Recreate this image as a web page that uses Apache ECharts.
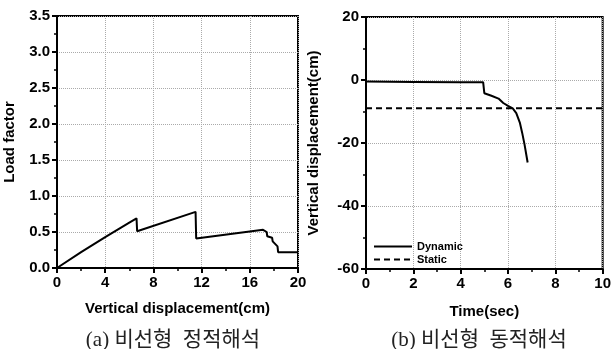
<!DOCTYPE html>
<html>
<head>
<meta charset="utf-8">
<script src="https://cdn.jsdelivr.net/npm/echarts@6/dist/echarts.min.js"></script>
<style>
  html, body { margin: 0; padding: 0; background: #fff; }
  #chart { width: 614px; height: 349px; }
</style>
</head>
<body>
<div id="chart"></div>
<script>
// (a) 정적해석: 하중계수 - 수직변위
const staticDisp = [0, 2, 4, 6, 6.6, 6.65, 11.5, 11.55, 17.1, 17.4, 17.45, 17.85, 17.9, 18.3, 18.35, 20]
const loadFactor = [0, 0.22, 0.43, 0.63, 0.69, 0.51, 0.78, 0.41, 0.53, 0.5, 0.44, 0.42, 0.37, 0.3, 0.22, 0.22]

// (b) 동적해석: 시간 - 수직변위
const dynTime = [0, 2, 4, 4.95, 5.0, 5.3, 5.6, 5.8, 6.0, 6.2, 6.35, 6.5, 6.6, 6.7, 6.83]
const dynDisp = [-0.5, -0.6, -0.7, -0.7, -4.2, -5.0, -5.9, -7.3, -8.2, -9.0, -10.5, -13.5, -16.8, -20.5, -26.2]
const staticTime = [0, 10]
const staticLevel = [-9, -9]

const pairs = (xs, ys) => xs.map((x, i) => [x, ys[i]])

const boldLabel = { color: '#000', fontWeight: 'bold', fontSize: 15, fontFamily: 'Liberation Sans' }
const nameStyle = { color: '#000', fontWeight: 'bold', fontSize: 15, fontFamily: 'Liberation Sans' }
const gridLine = { show: true, lineStyle: { color: '#aaa', type: 'dotted', width: 1 } }
const captionStyle = { fontSize: 21, fontWeight: 'normal', color: '#222', fontFamily: 'Liberation Serif, Noto Sans CJK KR' }

function axis (min, max, interval, extra) {
  return Object.assign({
    type: 'value',
    min: min,
    max: max,
    interval: interval,
    axisLine: { show: true, onZero: false, lineStyle: { color: '#000', width: 2 } },
    axisTick: { show: true, inside: false, length: 5, lineStyle: { color: '#000', width: 2 } },
    minorTick: { show: true, splitNumber: 2, length: 3, lineStyle: { color: '#000', width: 1.5 } },
    splitLine: gridLine,
    axisLabel: Object.assign({ margin: 7 }, boldLabel),
    nameTextStyle: nameStyle,
    nameLocation: 'middle'
  }, extra)
}

const chart = echarts.init(document.getElementById('chart'))
chart.setOption({
  animation: false,
  backgroundColor: '#fff',
  title: [
    { text: '(a) 비선형  정적해석', left: 168, top: 325, textAlign: 'center', textStyle: captionStyle },
    { text: '(b) 비선형  동적해석', left: 474, top: 325, textAlign: 'center', textStyle: captionStyle }
  ],
  grid: [
    { left: 57, top: 16, width: 241, height: 252, show: true, borderColor: '#000', borderWidth: 2 },
    { left: 366, top: 17, width: 239, height: 252, show: true, borderColor: '#000', borderWidth: 2 }
  ],
  legend: {
    left: 368, top: 236, orient: 'vertical', itemGap: 2, itemWidth: 38, itemHeight: 10,
    itemStyle: { opacity: 0 },
    textStyle: { color: '#000', fontWeight: 'bold', fontSize: 11, fontFamily: 'Liberation Sans' },
    data: ['Dynamic', 'Static']
  },
  xAxis: [
    axis(0, 20, 4, { gridIndex: 0, name: 'Vertical displacement(cm)', nameGap: 33 }),
    axis(0, 10, 2, { gridIndex: 1, name: 'Time(sec)', nameGap: 35 })
  ],
  yAxis: [
    axis(0, 3.5, 0.5, { gridIndex: 0, name: 'Load factor', nameGap: 40,
      axisLabel: Object.assign({ margin: 7, formatter: v => v.toFixed(1) }, boldLabel) }),
    axis(-60, 20, 20, { gridIndex: 1, name: 'Vertical displacement(cm)', nameGap: 45 })
  ],
  series: [
    {
      name: 'Load', type: 'line', xAxisIndex: 0, yAxisIndex: 0, symbol: 'none',
      lineStyle: { color: '#000', width: 2 },
      data: pairs(staticDisp, loadFactor)
    },
    {
      name: 'Dynamic', type: 'line', xAxisIndex: 1, yAxisIndex: 1, symbol: 'none',
      lineStyle: { color: '#000', width: 2 }, itemStyle: { color: '#000' },
      data: pairs(dynTime, dynDisp)
    },
    {
      name: 'Static', type: 'line', xAxisIndex: 1, yAxisIndex: 1, symbol: 'none',
      lineStyle: { color: '#000', width: 2, type: [6, 4] }, itemStyle: { color: '#000' },
      data: pairs(staticTime, staticLevel)
    }
  ]
})
</script>
</body>
</html>
